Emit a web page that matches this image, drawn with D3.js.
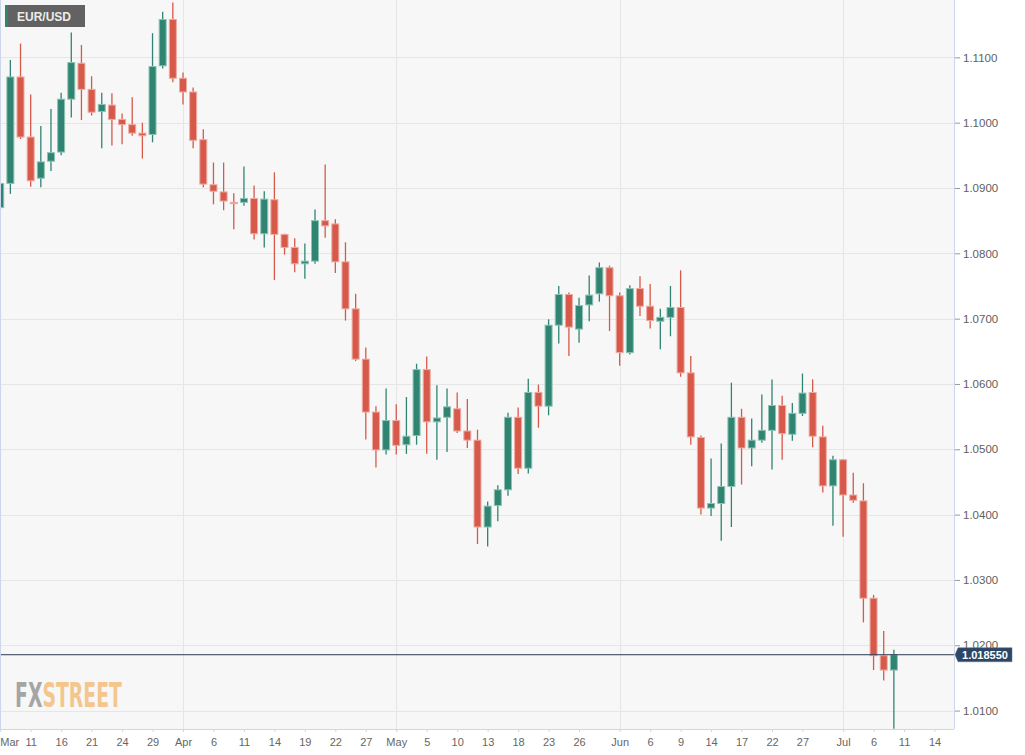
<!DOCTYPE html>
<html><head><meta charset="utf-8">
<script src="https://cdn.jsdelivr.net/npm/d3@7"></script>
<style>
html,body{margin:0;padding:0;background:#fff;}
svg{display:block;font-family:"Liberation Sans",Arial,sans-serif;}
</style></head>
<body>
<svg id="chart" width="1025" height="755"></svg>
<script>
// ---- data (index 0 = Mar 8, trading days) ----
const opens  = [1.0870,1.0907,1.1070,1.0978,1.0915,1.0941,1.0955,1.1036,1.1091,1.1051,1.1017,1.1027,1.1005,1.0997,1.0984,1.0982,1.1087,1.1158,1.1068,1.1047,1.0974,1.0905,1.0894,1.0878,1.0878,1.0884,1.0830,1.0882,1.0829,1.0809,1.0784,1.0788,1.0850,1.0845,1.0787,1.0715,1.0638,1.0557,1.0499,1.0544,1.0507,1.0521,1.0622,1.0542,1.0549,1.0562,1.0528,1.0514,1.0381,1.0414,1.0438,1.0549,1.0471,1.0587,1.0566,1.0690,1.0737,1.0684,1.0721,1.0738,1.0778,1.0735,1.0648,1.0746,1.0719,1.0696,1.0702,1.0717,1.0617,1.0518,1.0410,1.0417,1.0443,1.0549,1.0502,1.0514,1.0529,1.0567,1.0523,1.0555,1.0587,1.0519,1.0444,1.0484,1.0430,1.0421,1.0272,1.0184,1.0162];
const highs  = [1.0955,1.1096,1.1121,1.1043,1.0995,1.1021,1.1046,1.1138,1.1119,1.1071,1.1046,1.1045,1.1014,1.1039,1.1000,1.1137,1.1170,1.1184,1.1077,1.1054,1.0990,1.0939,1.0939,1.0892,1.0933,1.0904,1.0895,1.0924,1.0830,1.0823,1.0815,1.0867,1.0936,1.0852,1.0817,1.0738,1.0656,1.0566,1.0593,1.0569,1.0580,1.0631,1.0642,1.0598,1.0593,1.0587,1.0577,1.0530,1.0420,1.0445,1.0556,1.0564,1.0608,1.0599,1.0699,1.0750,1.0740,1.0732,1.0766,1.0786,1.0781,1.0740,1.0751,1.0765,1.0753,1.0715,1.0750,1.0774,1.0643,1.0521,1.0486,1.0509,1.0602,1.0562,1.0547,1.0584,1.0607,1.0582,1.0571,1.0616,1.0607,1.0536,1.0490,1.0485,1.0464,1.0448,1.0277,1.0222,1.0193];
const lows   = [1.0851,1.0891,1.0975,1.0902,1.0901,1.0926,1.0950,1.1008,1.1004,1.1011,1.0961,1.0965,1.0967,1.0980,1.0945,1.0970,1.1083,1.1062,1.1028,1.0961,1.0901,1.0875,1.0866,1.0837,1.0873,1.0821,1.0809,1.0759,1.0798,1.0771,1.0761,1.0784,1.0824,1.0770,1.0697,1.0635,1.0515,1.0472,1.0492,1.0492,1.0493,1.0507,1.0493,1.0484,1.0496,1.0525,1.0502,1.0355,1.0351,1.0390,1.0429,1.0462,1.0463,1.0533,1.0552,1.0662,1.0643,1.0663,1.0696,1.0726,1.0681,1.0628,1.0645,1.0704,1.0685,1.0653,1.0673,1.0611,1.0507,1.0400,1.0398,1.0360,1.0381,1.0446,1.0474,1.0510,1.0469,1.0484,1.0513,1.0551,1.0503,1.0434,1.0383,1.0366,1.0418,1.0235,1.0162,1.0146,1.0072];
const closes = [1.0907,1.1070,1.0978,1.0911,1.0940,1.0954,1.1036,1.1092,1.1051,1.1016,1.1028,1.1005,1.0997,1.0984,1.0980,1.1086,1.1158,1.1068,1.1047,1.0973,1.0906,1.0895,1.0880,1.0876,1.0884,1.0830,1.0883,1.0829,1.0809,1.0784,1.0788,1.0850,1.0842,1.0787,1.0715,1.0638,1.0557,1.0499,1.0544,1.0506,1.0520,1.0622,1.0542,1.0548,1.0565,1.0528,1.0514,1.0381,1.0413,1.0438,1.0549,1.0471,1.0587,1.0566,1.0690,1.0737,1.0687,1.0720,1.0736,1.0778,1.0735,1.0648,1.0746,1.0719,1.0697,1.0702,1.0717,1.0617,1.0519,1.0410,1.0417,1.0443,1.0549,1.0502,1.0514,1.0529,1.0567,1.0524,1.0555,1.0586,1.0520,1.0444,1.0484,1.0430,1.0422,1.0272,1.0184,1.0162,1.01855];
const xTickIdx    = [0,3,6,9,12,15,18,21,24,27,30,33,36,39,42,45,48,51,54,57,61,64,67,70,73,76,79,83,86,89,92];
const xTickLabels = ["Mar","11","16","21","24","29","Apr","6","11","14","19","22","27","May","5","10","13","18","23","26","Jun","6","9","14","17","22","27","Jul","6","11","14"];
const monthTickIdx = [18,39,61,83];
const yTickValues = [1.01,1.02,1.03,1.04,1.05,1.06,1.07,1.08,1.09,1.10,1.11];
const lastPrice = 1.01855;
const pairName = "EUR/USD";

// ---- layout ----
const svg = d3.select("#chart");
const PL = 0, PR = 954, PT = 0, PB = 729;
const x = d3.scaleLinear().domain([0, 92]).range([0.2, 934.5]);
const y = d3.scaleLinear().domain([1.00718, 1.11878]).range([PB, PT]);

svg.append("rect").attr("x",0).attr("y",0).attr("width",1025).attr("height",755).attr("fill","#ffffff");
svg.append("rect").attr("x",PL).attr("y",PT).attr("width",PR-PL).attr("height",PB-PT).attr("fill","#f7f7f7");

svg.append("defs").append("clipPath").attr("id","clip")
  .append("rect").attr("x",PL).attr("y",PT).attr("width",PR-PL).attr("height",PB-PT);

// grid
const grid = svg.append("g");
grid.selectAll("line.h").data(yTickValues).enter().append("line")
  .attr("x1",PL).attr("x2",PR).attr("y1",d=>Math.round(y(d))+0.5).attr("y2",d=>Math.round(y(d))+0.5)
  .attr("stroke","#e6e6e6").attr("stroke-width",1);
grid.selectAll("line.v").data(monthTickIdx).enter().append("line")
  .attr("y1",PT).attr("y2",PB).attr("x1",d=>Math.round(x(d))+0.5).attr("x2",d=>Math.round(x(d))+0.5)
  .attr("stroke","#e6e6e6").attr("stroke-width",1);

// logo (one text element, two coloured parts)
const logo = svg.append("text").attr("x",15).attr("y",707)
  .attr("font-family","'DejaVu Sans Condensed','DejaVu Sans',sans-serif").attr("font-weight","bold")
  .attr("font-size",34).attr("textLength",107).attr("lengthAdjust","spacingAndGlyphs");
logo.append("tspan").attr("fill","#a5a5a5").text("FX");
logo.append("tspan").attr("fill","#f4c68d").text("STREET");

// candles
const data = opens.map((o,i)=>({i, o, h:highs[i], l:lows[i], c:closes[i]}));
const cg = svg.append("g").attr("clip-path","url(#clip)");
const UP = "#2f8572", UPS = "#8ec2b5", DN = "#d6594a", DNS = "#eeaba3";
const cs = cg.selectAll("g.c").data(data).enter().append("g");
cs.append("line")
  .attr("x1",d=>x(d.i)).attr("x2",d=>x(d.i))
  .attr("y1",d=>y(d.h)).attr("y2",d=>y(d.l))
  .attr("stroke",d=>d.c>=d.o?UP:DN).attr("stroke-width",1.3);
cs.append("rect")
  .attr("x",d=>x(d.i)-3.5).attr("width",7)
  .attr("y",d=>y(Math.max(d.o,d.c)))
  .attr("height",d=>Math.max(1,Math.abs(y(d.o)-y(d.c))))
  .attr("fill",d=>d.c>=d.o?UP:DN)
  .attr("stroke",d=>d.c>=d.o?UPS:DNS).attr("stroke-width",1);

// last price line
svg.append("line").attr("x1",PL).attr("x2",PR)
  .attr("y1",y(lastPrice)).attr("y2",y(lastPrice))
  .attr("stroke","#2c3b52").attr("stroke-width",1);

// borders
svg.append("line").attr("x1",0.5).attr("x2",0.5).attr("y1",0).attr("y2",PB).attr("stroke","#ccd6eb");

// bottom axis
const xa = svg.append("g").attr("transform",`translate(0,${PB})`)
  .call(d3.axisBottom(x).tickValues(xTickIdx).tickFormat((d,i)=>xTickLabels[i]).tickSize(3).tickPadding(6));
xa.select(".domain").remove();
xa.selectAll(".tick line").attr("stroke","#ccd6eb");
xa.selectAll(".tick text").attr("fill","#666666").attr("font-size",11)
  .attr("font-family","'Liberation Sans',Arial,sans-serif");
xa.selectAll(".tick").filter(d=>d===0).select("text").attr("x",9);
svg.append("line").attr("x1",0).attr("x2",PR).attr("y1",PB+0.5).attr("y2",PB+0.5).attr("stroke","#ccd6eb");

// right axis
const ya = svg.append("g").attr("transform",`translate(${PR},0)`)
  .call(d3.axisRight(y).tickValues(yTickValues).tickFormat(d3.format(".4f")).tickSize(6).tickPadding(3));
ya.select(".domain").remove();
ya.selectAll(".tick line").attr("stroke","#999999");
ya.selectAll(".tick text").attr("fill","#606060").attr("font-size",11.5)
  .attr("font-family","'Liberation Sans',Arial,sans-serif");
svg.append("line").attr("x1",PR+0.5).attr("x2",PR+0.5).attr("y1",0).attr("y2",PB).attr("stroke","#ccd6eb");

// last price label
const ly = y(lastPrice);
svg.append("path")
  .attr("d",`M${PR+1},${ly} L${PR+4},${ly-7} L1012,${ly-7} L1012,${ly+7} L${PR+4},${ly+7} Z`)
  .attr("fill","#2c4765").attr("stroke","#5a7290").attr("stroke-width",0.5);
svg.append("text").attr("x",985).attr("y",ly+4).attr("text-anchor","middle")
  .attr("fill","#ffffff").attr("font-size",11).attr("font-weight","bold").text(d3.format(".6f")(lastPrice));

// pair label
svg.append("rect").attr("x",5).attr("y",5).attr("width",80).attr("height",22).attr("fill","#626262");
svg.append("rect").attr("x",5).attr("y",5).attr("width",3).attr("height",22).attr("fill",UP);
svg.append("text").attr("x",17).attr("y",21).attr("fill","#ececec").attr("font-size",12)
  .attr("font-weight","bold").text(pairName);
</script>
</body></html>
